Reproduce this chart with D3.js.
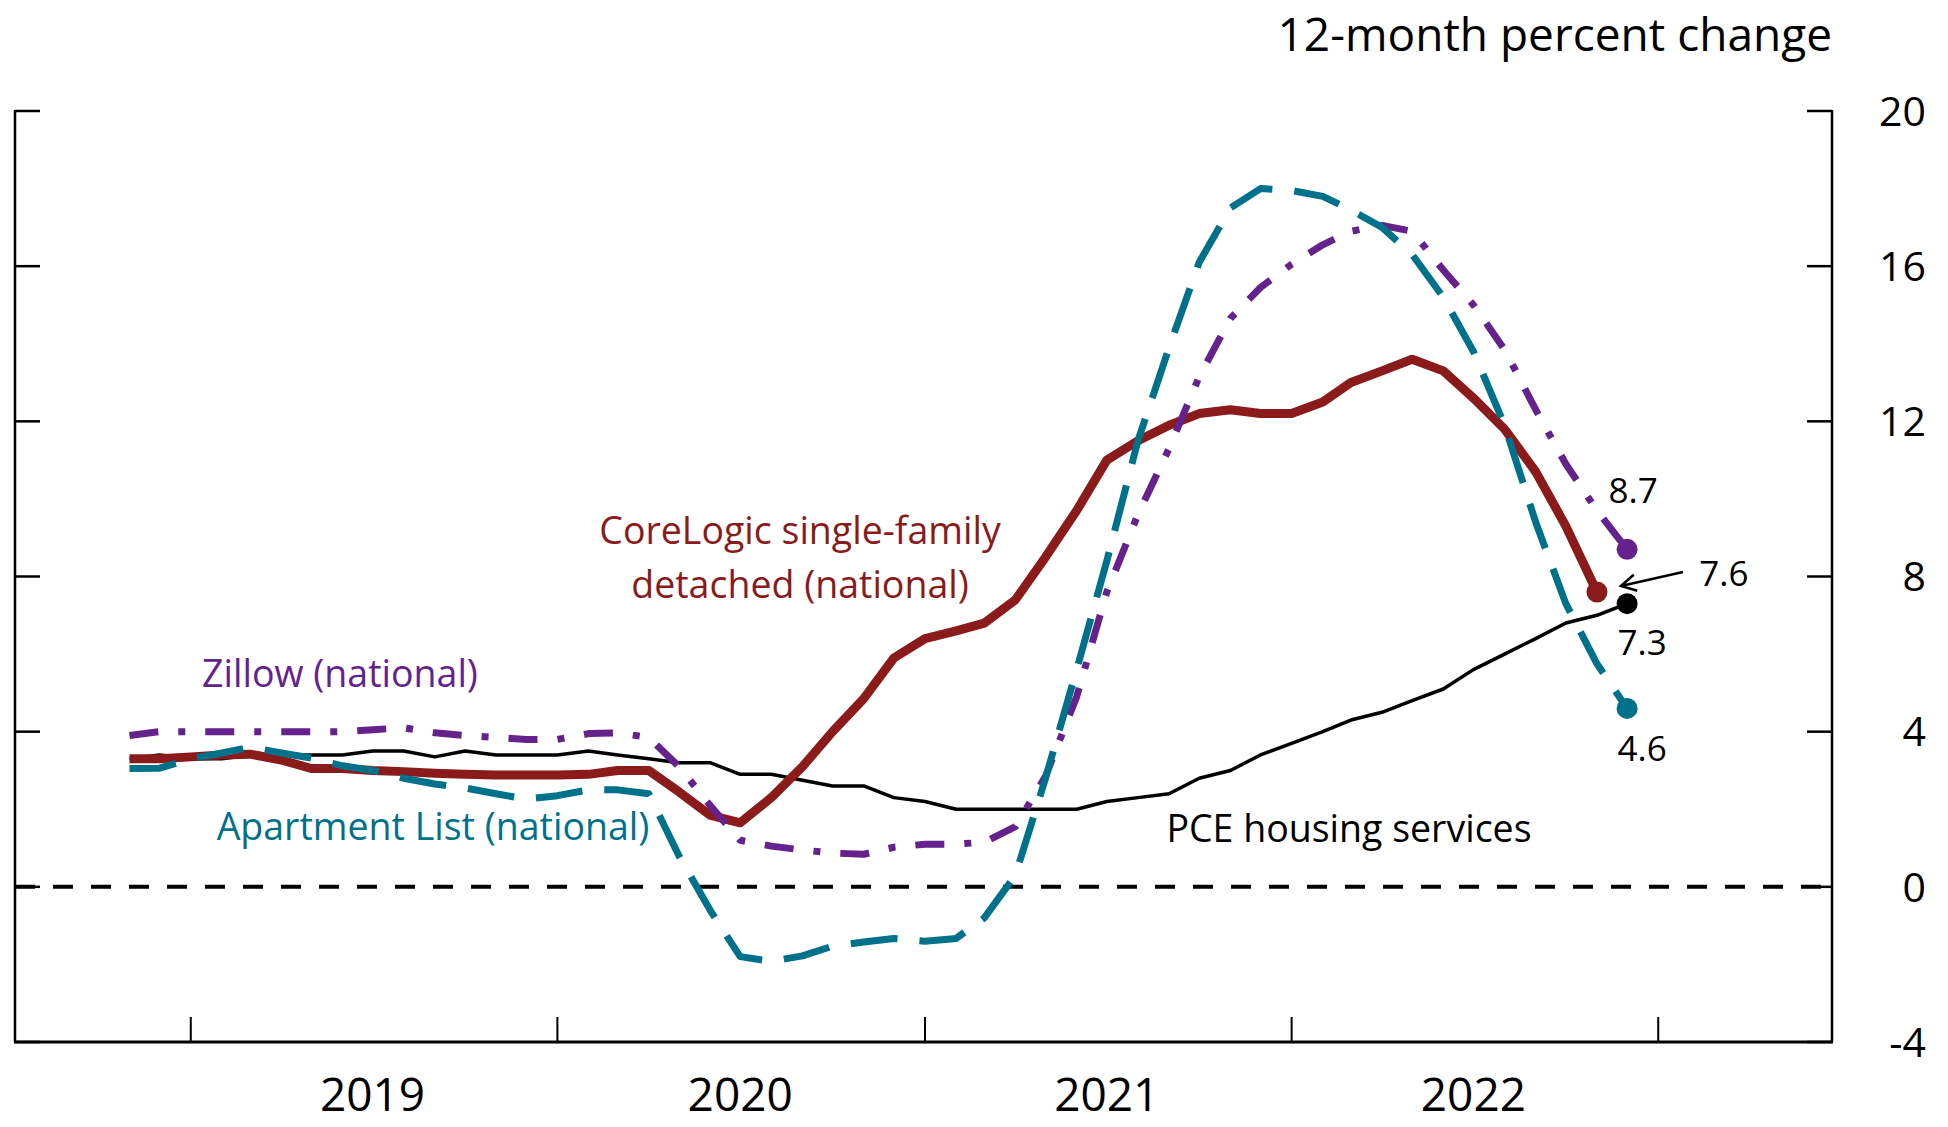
<!DOCTYPE html>
<html><head><meta charset="utf-8">
<script src="https://cdn.jsdelivr.net/npm/d3@7/dist/d3.min.js"></script>
<style>body{margin:0;background:#fff}svg{display:block}text{font-family:"Open Sans","Noto Sans",sans-serif}</style>
</head><body>
<svg id="chart" width="1948" height="1127"></svg>
<script>
// ---- data ----
const months = ["2018-11","2018-12",
"2019-01","2019-02","2019-03","2019-04","2019-05","2019-06","2019-07","2019-08","2019-09","2019-10","2019-11","2019-12",
"2020-01","2020-02","2020-03","2020-04","2020-05","2020-06","2020-07","2020-08","2020-09","2020-10","2020-11","2020-12",
"2021-01","2021-02","2021-03","2021-04","2021-05","2021-06","2021-07","2021-08","2021-09","2021-10","2021-11","2021-12",
"2022-01","2022-02","2022-03","2022-04","2022-05","2022-06","2022-07","2022-08","2022-09","2022-10","2022-11","2022-12"];
const pceHousing = [3.3,3.4,3.3,3.3,3.4,3.4,3.4,3.4,3.5,3.5,3.35,3.5,3.4,3.4,3.4,3.5,3.4,3.3,3.2,3.2,2.9,2.9,2.75,2.6,2.6,2.3,2.2,2.0,2.0,2.0,2.0,2.0,2.2,2.3,2.4,2.8,3.0,3.4,3.7,4.0,4.3,4.5,4.8,5.1,5.6,6.0,6.4,6.8,7.0,7.3];
const coreLogic = [3.3,3.3,3.35,3.4,3.42,3.27,3.05,3.05,3.0,2.97,2.93,2.9,2.88,2.88,2.88,2.9,3.0,3.0,2.45,1.85,1.65,2.3,3.1,4.0,4.85,5.9,6.4,6.6,6.8,7.4,8.5,9.7,11.0,11.5,11.9,12.2,12.3,12.2,12.2,12.5,13.0,13.3,13.6,13.3,12.6,11.8,10.7,9.3,7.6];
const zillow = [3.9,4.0,4.0,4.0,4.0,4.0,4.0,4.0,4.05,4.1,3.97,3.9,3.85,3.8,3.8,3.95,3.97,3.85,3.1,2.1,1.2,1.05,0.95,0.87,0.84,1.02,1.1,1.1,1.15,1.55,2.85,4.9,7.6,9.6,11.3,13.15,14.65,15.45,16.05,16.55,16.9,17.05,16.9,15.9,15.0,13.85,12.3,10.9,9.7,8.7];
const apartmentList = [3.05,3.06,3.3,3.45,3.6,3.45,3.32,3.12,3.0,2.8,2.65,2.55,2.4,2.26,2.35,2.5,2.5,2.4,0.8,-0.6,-1.8,-1.92,-1.78,-1.53,-1.42,-1.33,-1.4,-1.33,-0.8,0.3,2.8,5.6,8.4,11.5,13.9,16.1,17.5,18.0,17.95,17.8,17.45,17.0,16.3,15.2,13.8,11.9,9.4,7.3,5.75,4.6];
const yTicks = [-4,0,4,8,12,16,20];
const yearTicks = ["2019-01","2020-01","2021-01","2022-01","2023-01"];
const yearLabels = ["2019","2020","2021","2022"];
const yearLabelDates = ["2019-07","2020-07","2021-07","2022-07"];
const titleText = "12-month percent change";

// ---- setup ----
const parse = d3.timeParse("%Y-%m");
const svg = d3.select("#chart");
const L = 15, R = 1832, T = 111, B = 1042;
const x = d3.scaleTime().domain([new Date(2018,6,10), new Date(2023,5,23)]).range([L, R]);
const y = d3.scaleLinear().domain([-4, 20]).range([B, T]);

const colors = {pce:"#000000", core:"#8b1a1a", zillow:"#65228d", apt:"#00718a"};

// zero line
svg.append("line").attr("x1", L).attr("x2", R).attr("y1", y(0)).attr("y2", y(0))
  .attr("stroke","#000").attr("stroke-width",4).attr("stroke-dasharray","20,18");

// axes
const axisG = svg.append("g");
axisG.append("line").attr("x1",L).attr("x2",L).attr("y1",T-1).attr("y2",B).attr("stroke","#000").attr("stroke-width",2.5);
axisG.append("line").attr("x1",R).attr("x2",R).attr("y1",T-1).attr("y2",B).attr("stroke","#000").attr("stroke-width",2.5);
axisG.append("line").attr("x1",L-1).attr("x2",R+1).attr("y1",B).attr("y2",B).attr("stroke","#000").attr("stroke-width",3);
yTicks.forEach(v => {
  axisG.append("line").attr("x1",L).attr("x2",L+25).attr("y1",y(v)).attr("y2",y(v)).attr("stroke","#000").attr("stroke-width",2.5);
  axisG.append("line").attr("x1",R-25).attr("x2",R).attr("y1",y(v)).attr("y2",y(v)).attr("stroke","#000").attr("stroke-width",2.5);
  axisG.append("text").attr("x",1926).attr("y",y(v)).attr("dy","0.36em").attr("text-anchor","end")
    .attr("font-size",41).text(v);
});
yearTicks.forEach(d => {
  axisG.append("line").attr("x1",x(parse(d))).attr("x2",x(parse(d))).attr("y1",B-25).attr("y2",B).attr("stroke","#000").attr("stroke-width",2);
});
yearLabels.forEach((t,i) => {
  axisG.append("text").attr("x",x(parse(yearLabelDates[i]))).attr("y",1111).attr("text-anchor","middle")
    .attr("font-size",46).text(t);
});
svg.append("text").attr("x",R).attr("y",51).attr("text-anchor","end").attr("font-size",46).text(titleText);

// lines
const line = d3.line().x((d,i) => x(parse(months[i]))).y(d => y(d));
function draw(data, color, width, dash) {
  const p = svg.append("path").attr("d", line(data)).attr("fill","none")
    .attr("stroke",color).attr("stroke-width",width).attr("stroke-linejoin","round");
  if (dash) p.attr("stroke-dasharray", dash);
  return p;
}
draw(pceHousing, colors.pce, 3.5);
draw(coreLogic, colors.core, 9);
draw(zillow, colors.zillow, 7, "29,20,7,20");
draw(apartmentList, colors.apt, 7, "47,22");

// end dots
function dot(data, color) {
  const i = data.length - 1;
  svg.append("circle").attr("cx", x(parse(months[i]))).attr("cy", y(data[i])).attr("r", 10.5).attr("fill", color);
  return [x(parse(months[i])), y(data[i])];
}
const dZ = dot(zillow, colors.zillow);
const dC = dot(coreLogic, colors.core);
const dP = dot(pceHousing, colors.pce);
const dA = dot(apartmentList, colors.apt);

const annSize = 35;
svg.append("text").attr("x", dZ[0]+6).attr("y", dZ[1]-46).attr("text-anchor","middle").attr("font-size",annSize).text(zillow[zillow.length-1]);
svg.append("text").attr("x", dP[0]+15).attr("y", dP[1]+51).attr("text-anchor","middle").attr("font-size",annSize).text(pceHousing[pceHousing.length-1]);
svg.append("text").attr("x", dA[0]+15).attr("y", dA[1]+53).attr("text-anchor","middle").attr("font-size",annSize).text(apartmentList[apartmentList.length-1]);
svg.append("text").attr("x", dC[0]+127).attr("y", dC[1]-6).attr("text-anchor","middle").attr("font-size",annSize).text(coreLogic[coreLogic.length-1]);
// arrow for 7.6
const ax0 = dC[0]+86, ay0 = dC[1]-20, ax1 = dC[0]+24, ay1 = dC[1]-6;
svg.append("line").attr("x1",ax0).attr("y1",ay0).attr("x2",ax1).attr("y2",ay1).attr("stroke","#000").attr("stroke-width",2.5);
const ang = Math.atan2(ay0-ay1, ax0-ax1);
const hl = 17, ha = 0.5;
svg.append("path").attr("d", d3.line()([
  [ax1 + hl*Math.cos(ang-ha), ay1 + hl*Math.sin(ang-ha)], [ax1, ay1],
  [ax1 + hl*Math.cos(ang+ha), ay1 + hl*Math.sin(ang+ha)]]))
  .attr("fill","none").attr("stroke","#000").attr("stroke-width",2.5);

// series labels
const lab = svg.append("g").attr("font-size",37.5).attr("text-anchor","middle");
lab.append("text").attr("x",800).attr("y",544).attr("fill",colors.core).text("CoreLogic single-family");
lab.append("text").attr("x",800).attr("y",598).attr("fill",colors.core).text("detached (national)");
lab.append("text").attr("x",340).attr("y",687).attr("fill",colors.zillow).text("Zillow (national)");
lab.append("text").attr("x",433).attr("y",840).attr("fill",colors.apt).text("Apartment List (national)");
lab.append("text").attr("x",1349).attr("y",842).attr("fill",colors.pce).text("PCE housing services");
</script>
</body></html>
